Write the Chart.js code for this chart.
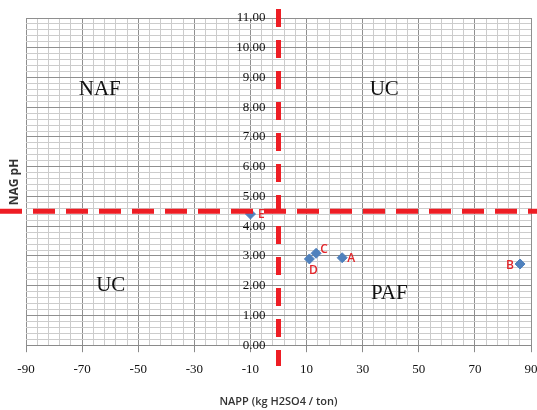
<!DOCTYPE html>
<html><head><meta charset="utf-8">
<script src="https://cdn.jsdelivr.net/npm/chart.js@4/dist/chart.umd.min.js"></script>
<style>html,body{margin:0;padding:0;background:#fff;}</style>
</head><body>
<canvas id="c" width="537" height="410"></canvas>
<script>
// ---- data ----
const pointNames = ['A', 'B', 'C', 'D', 'E'];
const nappValues = [22.7, 86.1, 13.4, 11.0, -10.0];   // NAPP (kg H2SO4 / ton)
const nagPhValues = [2.94, 2.73, 3.09, 2.90, 4.41];   // NAG pH
const xTickLabels = [-90, -70, -50, -30, -10, 10, 30, 50, 70, 90];
const yTickLabels = [0, 1, 2, 3, 4, 5, 6, 7, 8, 9, 10, 11];
const regionNames = ['NAF', 'UC', 'UC', 'PAF'];
const nagPhDivider = 4.5;
const nappDivider = 0;

// ---- styling / placement (not data) ----
const regionAnchors = [[-63.7, 8.6], [37.7, 8.6], [-59.8, 2.0], [39.5, 1.75]];
const labelOffsets = {A: [9, 1], B: [-10, 2], C: [8, -4], D: [4, 12], E: [11, 1]};
const xMinorStep = 4, yMinorStep = 0.2;
const serif = '"Liberation Serif", "DejaVu Serif", serif';
const sans = '"Open Sans", "Liberation Sans", sans-serif';

function isMajorX(v) { return Math.abs((v + 90) % 20) < 1e-6; }
function isMajorY(v) { return Math.abs(v - Math.round(v)) < 1e-6; }

const overlay = {
  id: 'overlay',
  afterDatasetsDraw(chart) {
    const ctx = chart.ctx, xs = chart.scales.x, ys = chart.scales.y;
    ctx.save();
    ctx.font = '21px ' + serif;
    ctx.fillStyle = '#111';
    ctx.textAlign = 'center';
    ctx.textBaseline = 'middle';
    regionNames.forEach((n, i) => {
      ctx.fillText(n, xs.getPixelForValue(regionAnchors[i][0]), ys.getPixelForValue(regionAnchors[i][1]));
    });
    ctx.font = '600 12px ' + sans;
    ctx.fillStyle = '#e3262b';
    pointNames.forEach((n, i) => {
      const o = labelOffsets[n];
      ctx.fillText(n, xs.getPixelForValue(nappValues[i]) + o[0], ys.getPixelForValue(nagPhValues[i]) + o[1]);
    });
    ctx.translate(15, 182);
    ctx.rotate(-Math.PI / 2);
    ctx.font = 'bold 12px ' + sans;
    ctx.fillStyle = '#333';
    ctx.fillText('NAG pH', 0, 0);
    ctx.restore();
  },
  afterDraw(chart) {
    const ctx = chart.ctx, xs = chart.scales.x, ys = chart.scales.y;
    ctx.save();
    ctx.strokeStyle = '#ee1d24';
    ctx.lineWidth = 5;
    ctx.lineCap = 'butt';
    const yp = ys.getPixelForValue(nagPhDivider);
    ctx.setLineDash([22, 11]);
    ctx.beginPath(); ctx.moveTo(0, yp); ctx.lineTo(chart.width, yp); ctx.stroke();
    const xp = xs.getPixelForValue(nappDivider);
    ctx.setLineDash([18, 13]);
    ctx.beginPath(); ctx.moveTo(xp, 9); ctx.lineTo(xp, 366); ctx.stroke();
    ctx.restore();
  }
};

new Chart(document.getElementById('c'), {
  type: 'scatter',
  data: {
    datasets: [{
      data: nappValues.map((x, i) => ({x: x, y: nagPhValues[i]})),
      pointStyle: 'rectRot',
      pointRadius: 5,
      backgroundColor: '#4f81bd',
      borderColor: '#4f81bd',
      borderWidth: 1
    }]
  },
  options: {
    responsive: false,
    animation: false,
    devicePixelRatio: 1,
    layout: {padding: {left: 26, top: 18, right: 5, bottom: 0}},
    plugins: {legend: {display: false}, tooltip: {enabled: false}},
    scales: {
      x: {
        type: 'linear', min: -90, max: 90,
        afterBuildTicks: s => {
          const t = [];
          for (let v = s.min; v <= s.max + 1e-9; v += xMinorStep) t.push({value: Math.round(v * 1000) / 1000});
          s.ticks = t;
        },
        afterFit: s => { s.paddingLeft = 0; s.paddingRight = 0; },
        ticks: {
          autoSkip: false, maxRotation: 0, padding: 10,
          color: '#111', font: {family: serif, size: 13},
          callback: v => xTickLabels.includes(v) ? String(v) : ''
        },
        grid: {
          color: c => isMajorX(c.tick.value) ? '#8f8f8f' : '#cccccc',
          tickLength: 7,
          tickColor: c => (c.tick && xTickLabels.includes(c.tick.value)) ? '#8a8a8a' : 'rgba(0,0,0,0)'
        },
        border: {display: true, color: '#8a8a8a'},
        title: {
          display: true, text: 'NAPP (kg H2SO4 / ton)', color: '#333',
          font: {family: sans, size: 11, weight: '600'},
          padding: {top: 7, bottom: 2}
        }
      },
      y: {
        type: 'linear', min: 0, max: 11,
        position: {x: -4.6},
        afterBuildTicks: s => {
          const t = [];
          for (let k = 0; k <= Math.round((s.max - s.min) / yMinorStep); k++) t.push({value: Math.round((s.min + k * yMinorStep) * 1000) / 1000});
          s.ticks = t;
        },
        ticks: {
          autoSkip: false, color: '#111', font: {family: serif, size: 13},
          callback: v => yTickLabels.some(t => Math.abs(t - v) < 1e-6) ? Number(v).toFixed(2) : ''
        },
        grid: {
          color: c => isMajorY(c.tick.value) ? '#8f8f8f' : '#cccccc',
          drawTicks: false
        },
        border: {display: false}
      }
    }
  },
  plugins: [overlay]
});
</script>
</body></html>
